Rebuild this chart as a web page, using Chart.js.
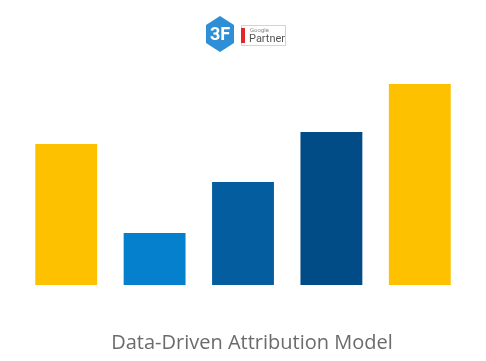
<!doctype html>
<html>

<head>
    <title>Data-Driven Attribution Model</title>
    <script src="https://cdn.jsdelivr.net/npm/chart.js"></script>
    <style>
        body { margin: 0; background: #fff; }
    </style>
</head>

<body>
    <canvas id="grafico" width="486" height="361"></canvas>

    <script>
        // valores (altura relativa das barras)
        var categorias = ['1', '2', '3', '4', '5'];
        var valores = [141, 52, 103, 153, 201];
        var cores = ['#FDC100', '#0580CC', '#045D9F', '#014B86', '#FDC100'];
        var titulo = 'Data-Driven Attribution Model';

        // logo e titulo desenhados no canvas
        var extras = {
            id: 'extras',
            afterDraw: function (chart) {
                var ctx = chart.ctx;
                ctx.save();

                // hexagono 3F
                var cx = 220, cy = 34, rx = 14, ry = 18;
                ctx.beginPath();
                for (var i = 0; i < 6; i++) {
                    var a = Math.PI / 3 * i - Math.PI / 2;
                    var px = cx + rx * Math.cos(a) / Math.cos(Math.PI / 6), py = cy + ry * Math.sin(a);
                    if (i == 0) ctx.moveTo(px, py); else ctx.lineTo(px, py);
                }
                ctx.closePath();
                ctx.fillStyle = '#2E8FD6';
                ctx.fill();
                ctx.fillStyle = '#fff';
                ctx.font = 'bold 18px "Roboto"';
                ctx.textAlign = 'center';
                ctx.textBaseline = 'middle';
                ctx.fillText('3F', cx, cy + 1);

                // selo Google Partner
                ctx.strokeStyle = '#d4d4d4';
                ctx.lineWidth = 1;
                ctx.strokeRect(241.5, 25.5, 44, 20);
                ctx.fillStyle = '#E0282B';
                ctx.fillRect(241, 28, 4, 15);
                ctx.textAlign = 'left';
                ctx.textBaseline = 'alphabetic';
                ctx.font = '6px "Roboto"';
                ctx.fillStyle = '#888';
                ctx.fillText('Google', 250, 32);
                ctx.font = '11px "Roboto"';
                ctx.fillStyle = '#555';
                ctx.fillText('Partner', 249, 42);

                // titulo
                ctx.font = '20px "Open Sans"';
                ctx.fillStyle = '#6b6b6b';
                ctx.textAlign = 'center';
                ctx.fillText(titulo, 252, 349);
                ctx.restore();
            }
        };

        var grafico = new Chart(document.getElementById('grafico').getContext('2d'), {
            type: 'bar',
            data: {
                labels: categorias,
                datasets: [{
                    data: valores,
                    backgroundColor: cores,
                    borderWidth: 0,
                    barPercentage: 0.7,
                    categoryPercentage: 1
                }]
            },
            options: {
                responsive: false,
                animation: false,
                layout: {
                    padding: { top: 84, bottom: 76, left: 22, right: 22 }
                },
                plugins: {
                    legend: { display: false },
                    tooltip: { enabled: false }
                },
                scales: {
                    x: { display: false },
                    y: { display: false, min: 0, max: 201 }
                }
            },
            plugins: [extras]
        });
    </script>
</body>

</html>
